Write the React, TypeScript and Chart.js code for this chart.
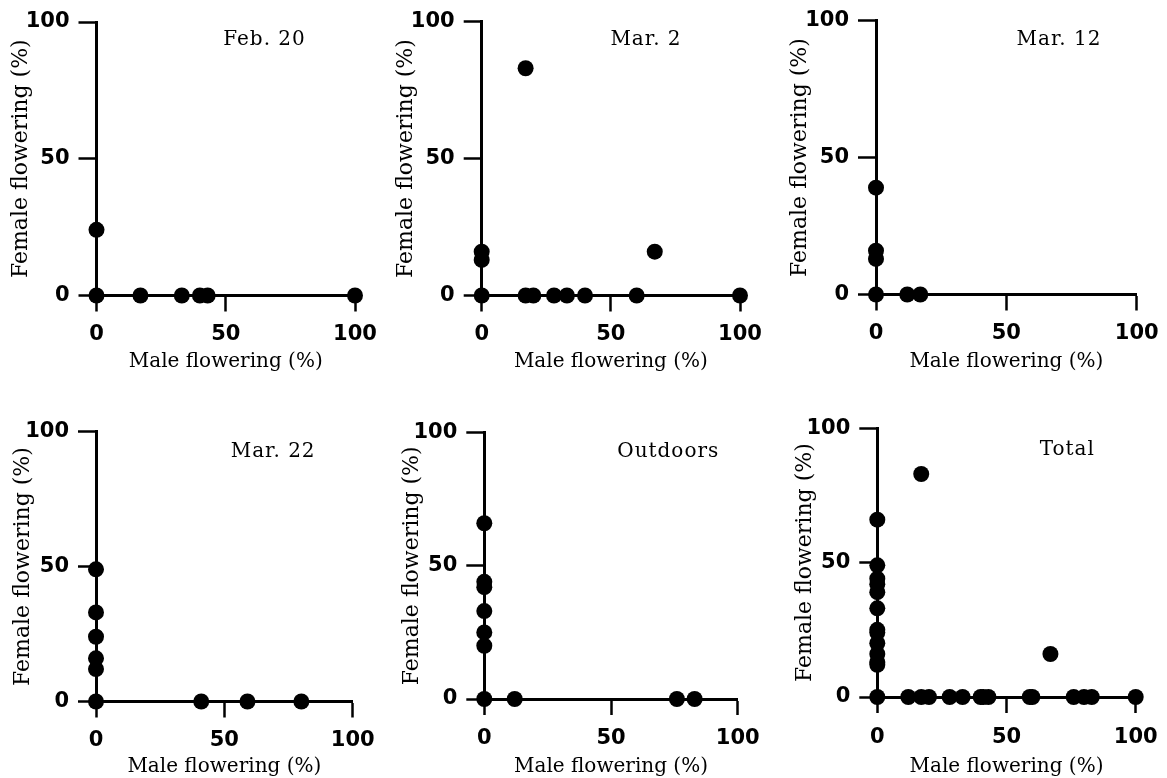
import React, { useEffect, useRef } from "react";
import { Chart, registerables } from "chart.js";

Chart.register(...registerables);

// ---------- data ----------
const PANEL_TITLES = ["Feb. 20", "Mar. 2", "Mar. 12", "Mar. 22", "Outdoors", "Total"];
const AXIS_TICKS = [0, 50, 100];
const X_TITLE = "Male flowering (%)";
const Y_TITLE = "Female flowering (%)";

const feb20Male = [0, 0, 17, 33, 40, 43, 100];
const feb20Female = [24, 0, 0, 0, 0, 0, 0];

const mar2Male = [0, 0, 0, 17, 17, 20, 28, 33, 40, 60, 67, 100];
const mar2Female = [0, 13, 16, 83, 0, 0, 0, 0, 0, 0, 16, 0];

const mar12Male = [0, 0, 0, 0, 12, 17];
const mar12Female = [39, 16, 13, 0, 0, 0];

const mar22Male = [0, 0, 0, 0, 0, 0, 41, 59, 80];
const mar22Female = [49, 33, 24, 16, 12, 0, 0, 0, 0];

const outdoorsMale = [0, 0, 0, 0, 0, 0, 0, 12, 76, 83];
const outdoorsFemale = [66, 44, 42, 33, 25, 20, 0, 0, 0, 0];

const totalMale = [
  0, 0, 0, 0, 0, 0, 0, 0, 0, 0, 0, 0, 0,
  17, 67,
  12, 17, 20, 28, 33, 40, 41, 43, 59, 60, 76, 80, 83, 100,
];
const totalFemale = [
  66, 49, 44, 42, 39, 33, 25, 24, 20, 16, 13, 12, 0,
  83, 16,
  0, 0, 0, 0, 0, 0, 0, 0, 0, 0, 0, 0, 0, 0,
];

const PANEL_MALE = [feb20Male, mar2Male, mar12Male, mar22Male, outdoorsMale, totalMale];
const PANEL_FEMALE = [feb20Female, mar2Female, mar12Female, mar22Female, outdoorsFemale, totalFemale];

// ---------- layout (pixels of the page) ----------
const PAGE_W = 1167;
const PAGE_H = 778;

type PanelLayout = {
  l: number; t: number; r: number; b: number;
  yOff: number; titleMid: number; tickPad: number;
  lx: number; ly: number;
};

const LAYOUT: PanelLayout[] = [
  { l: 96.5, t: 22, r: 355, b: 295.5, yOff: 75, titleMid: 361.5, tickPad: 10.5, lx: 65, ly: 91.6 },
  { l: 481.7, t: 21.7, r: 740, b: 295.5, yOff: 75, titleMid: 361.5, tickPad: 10.5, lx: 63.6, ly: 91.6 },
  { l: 876, t: 20.7, r: 1136.7, b: 294.5, yOff: 75.5, titleMid: 361.5, tickPad: 10.5, lx: 70.2, ly: 91.1 },
  { l: 96, t: 431.7, r: 352.7, b: 701.5, yOff: 72.5, titleMid: 766.5, tickPad: 10, lx: 69, ly: 90.7 },
  { l: 484.3, t: 432.7, r: 737.7, b: 699, yOff: 72.5, titleMid: 766.5, tickPad: 11, lx: 72.6, ly: 91 },
  { l: 877.3, t: 428.3, r: 1135.7, b: 697, yOff: 72.5, titleMid: 766.5, tickPad: 12, lx: 73.5, ly: 90 },
];

const TICK_FONT = { family: '"DejaVu Sans"', size: 21, weight: "bold" as const };
const SERIF = '"DejaVu Serif"';

function makeChart(canvas: HTMLCanvasElement, idx: number) {
  const L = LAYOUT[idx];
  const yTitleSize = 22;
  const xTitleSize = 20;
  const Wy = L.yOff + yTitleSize / 2;
  const Hx = L.titleMid - L.b + xTitleSize / 2;
  const data = PANEL_MALE[idx].map((x, i) => ({ x, y: PANEL_FEMALE[idx][i] }));
  const label = PANEL_TITLES[idx];

  const zeroPad = (s: any) => {
    s.paddingLeft = 0;
    s.paddingRight = 0;
    s.paddingTop = 0;
    s.paddingBottom = 0;
  };

  const panelLabel = {
    id: "panelLabel",
    afterDatasetsDraw(chart: any) {
      const ctx = chart.ctx;
      const x = chart.scales.x.getPixelForValue(L.lx);
      const y = chart.scales.y.getPixelForValue(L.ly);
      ctx.save();
      ctx.font = `20px ${SERIF}`;
      try { (ctx as any).letterSpacing = "1px"; } catch (e) {}
      ctx.fillStyle = "#000";
      ctx.textAlign = "center";
      ctx.textBaseline = "alphabetic";
      ctx.fillText(label, x, y);
      ctx.restore();
    },
  };

  const gridOpts = (tickLength: number) => ({
    display: true,
    drawOnChartArea: false,
    drawTicks: true,
    tickLength,
    tickWidth: 2.5,
    tickColor: "#000",
    color: "#000",
  });

  return new Chart(canvas, {
    type: "scatter",
    data: {
      datasets: [
        {
          data,
          pointRadius: 8,
          pointHoverRadius: 8,
          pointBackgroundColor: "#000",
          pointBorderWidth: 0,
          borderColor: "#000",
          showLine: false,
          clip: false as any,
        },
      ],
    },
    options: {
      responsive: false,
      animation: false,
      events: [],
      layout: {
        padding: {
          left: L.l - Wy,
          top: L.t,
          right: PAGE_W - L.r,
          bottom: PAGE_H - L.b - Hx,
        },
      },
      plugins: {
        legend: { display: false },
        tooltip: { enabled: false },
        title: { display: false },
      },
      scales: {
        x: {
          type: "linear",
          min: 0,
          max: 100,
          afterBuildTicks: (s: any) => {
            s.ticks = AXIS_TICKS.map((v) => ({ value: v }));
          },
          ticks: {
            autoSkip: false,
            maxRotation: 0,
            minRotation: 0,
            padding: L.tickPad,
            color: "#000",
            font: TICK_FONT,
          },
          grid: gridOpts(16),
          border: { display: true, color: "#000", width: 3 },
          title: {
            display: true,
            text: X_TITLE,
            color: "#000",
            padding: 0,
            font: { family: SERIF, size: xTitleSize, lineHeight: 1 },
          },
          afterFit: (s: any) => {
            s.height = Hx;
            zeroPad(s);
          },
        },
        y: {
          type: "linear",
          min: 0,
          max: 100,
          afterBuildTicks: (s: any) => {
            s.ticks = AXIS_TICKS.map((v) => ({ value: v }));
          },
          ticks: {
            autoSkip: false,
            padding: 9,
            color: "#000",
            font: TICK_FONT,
          },
          grid: gridOpts(18),
          border: { display: true, color: "#000", width: 3 },
          title: {
            display: true,
            text: Y_TITLE,
            color: "#000",
            padding: 0,
            font: { family: SERIF, size: yTitleSize, lineHeight: 1 },
          },
          afterFit: (s: any) => {
            s.width = Wy;
            zeroPad(s);
          },
        },
      },
    },
    plugins: [panelLabel],
  } as any);
}

export default function App() {
  const refs = useRef<(HTMLCanvasElement | null)[]>([]);

  useEffect(() => {
    const charts = refs.current.map((c, i) => (c ? makeChart(c, i) : null));
    return () => {
      charts.forEach((ch) => ch && ch.destroy());
    };
  }, []);

  return (
    <div
      style={{
        position: "absolute",
        left: 0,
        top: 0,
        width: PAGE_W,
        height: PAGE_H,
        background: "#fff",
        overflow: "hidden",
      }}
    >
      {PANEL_TITLES.map((t, i) => (
        <canvas
          key={t}
          ref={(el) => {
            refs.current[i] = el;
          }}
          width={PAGE_W}
          height={PAGE_H}
          style={{ position: "absolute", left: 0, top: 0, width: PAGE_W, height: PAGE_H }}
        />
      ))}
    </div>
  );
}
